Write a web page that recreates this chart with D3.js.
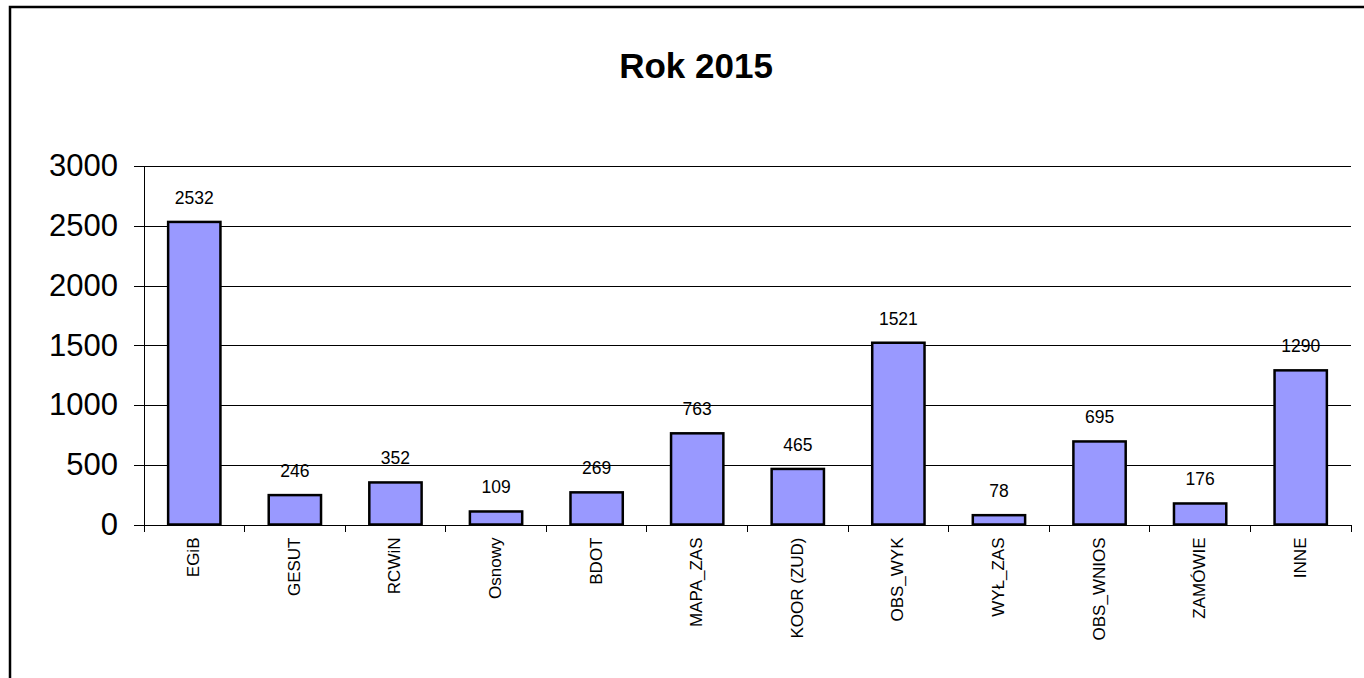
<!DOCTYPE html>
<html>
<head>
<meta charset="utf-8">
<script src="https://cdn.jsdelivr.net/npm/d3@7"></script>
<style>
  body { margin: 0; background: #fff; overflow: hidden; }
  text { font-family: Arial, "Liberation Sans", sans-serif; fill: #000; }
</style>
</head>
<body>
<div class="chart"></div>
<script>
const categories = ["EGiB", "GESUT", "RCWiN", "Osnowy", "BDOT", "MAPA_ZAS", "KOOR (ZUD)", "OBS_WYK", "WYŁ_ZAS", "OBS_WNIOS", "ZAMÓWIE", "INNE"];
const values = [2532, 246, 352, 109, 269, 763, 465, 1521, 78, 695, 176, 1290];
const yTicks = [0, 500, 1000, 1500, 2000, 2500, 3000];
const title = "Rok 2015";

const width = 1364;
const height = 678;
const plot = ({left: 144, right: 1351, top: 166, bottom: 524.5});

const svg = d3.select('.chart')
    .append('svg')
    .attr('width', width)
    .attr('height', height);

// outer frame (right/bottom edges run past the window like the original)
svg.append('rect')
    .attr('x', 10).attr('y', 7)
    .attr('width', 1400).attr('height', 720)
    .attr('fill', 'none')
    .attr('stroke', '#000')
    .attr('stroke-width', 2.5);

svg.append('text')
    .attr('x', 696)
    .attr('y', 78)
    .attr('text-anchor', 'middle')
    .style('font-size', '35px')
    .style('font-weight', 'bold')
    .text(title);

// SCALES
const xScale = d3.scaleBand()
    .domain(categories)
    .range([plot.left, plot.right])
    .paddingInner(0.48)
    .paddingOuter(0.24);

const yScale = d3.scaleLinear()
    .domain([0, 3000])
    .range([plot.bottom, plot.top]);

// gridlines + y ticks
const yAxis = d3.axisLeft(yScale)
    .tickValues(yTicks)
    .tickSize(-(plot.right - plot.left))
    .tickSizeOuter(0)
    .tickPadding(16)
    .tickFormat(d3.format('d'));

const gy = svg.append('g')
    .attr('transform', `translate(${plot.left},0)`)
    .call(yAxis);
gy.select('.domain').remove();
gy.selectAll('.tick line')
    .attr('x1', -10)
    .attr('stroke', '#000')
    .attr('shape-rendering', 'crispEdges');
gy.selectAll('.tick text')
    .attr('x', 118 - plot.left)
    .style('font-size', '31px')
    .style('font-family', 'Arial, "Liberation Sans", sans-serif');

// y axis line
svg.append('line')
    .attr('x1', plot.left).attr('x2', plot.left)
    .attr('y1', plot.top).attr('y2', plot.bottom)
    .attr('stroke', '#000')
    .attr('shape-rendering', 'crispEdges');

// category boundary ticks under the baseline
const step = xScale.step();
const edges = d3.range(categories.length + 1).map(i => plot.left + i * step);
svg.selectAll('.xtick')
    .data(edges)
    .enter()
    .append('line')
    .attr('class', 'xtick')
    .attr('x1', d => d).attr('x2', d => d)
    .attr('y1', plot.bottom).attr('y2', plot.bottom + 7)
    .attr('stroke', '#000')
    .attr('shape-rendering', 'crispEdges');

// BARS
svg.selectAll('.bar')
    .data(values)
    .enter()
    .append('rect')
    .attr('class', 'bar')
    .attr('x', (d, i) => xScale(categories[i]))
    .attr('y', d => yScale(d))
    .attr('width', xScale.bandwidth())
    .attr('height', d => yScale(0) - yScale(d))
    .attr('fill', '#9999ff')
    .attr('stroke', '#000')
    .attr('stroke-width', 2.5);

// value labels
svg.selectAll('.val')
    .data(values)
    .enter()
    .append('text')
    .attr('class', 'val')
    .attr('x', (d, i) => xScale(categories[i]) + xScale.bandwidth() / 2)
    .attr('y', d => yScale(d) - 18)
    .attr('text-anchor', 'middle')
    .style('font-size', '17.5px')
    .text(d => d);

// category labels, rotated
svg.selectAll('.cat')
    .data(categories)
    .enter()
    .append('text')
    .attr('class', 'cat')
    .attr('transform', d => `translate(${xScale(d) + xScale.bandwidth() / 2 + 5},${plot.bottom + 13}) rotate(-90)`)
    .attr('text-anchor', 'end')
    .style('font-size', '17px')
    .text(d => d);
</script>
</body>
</html>
